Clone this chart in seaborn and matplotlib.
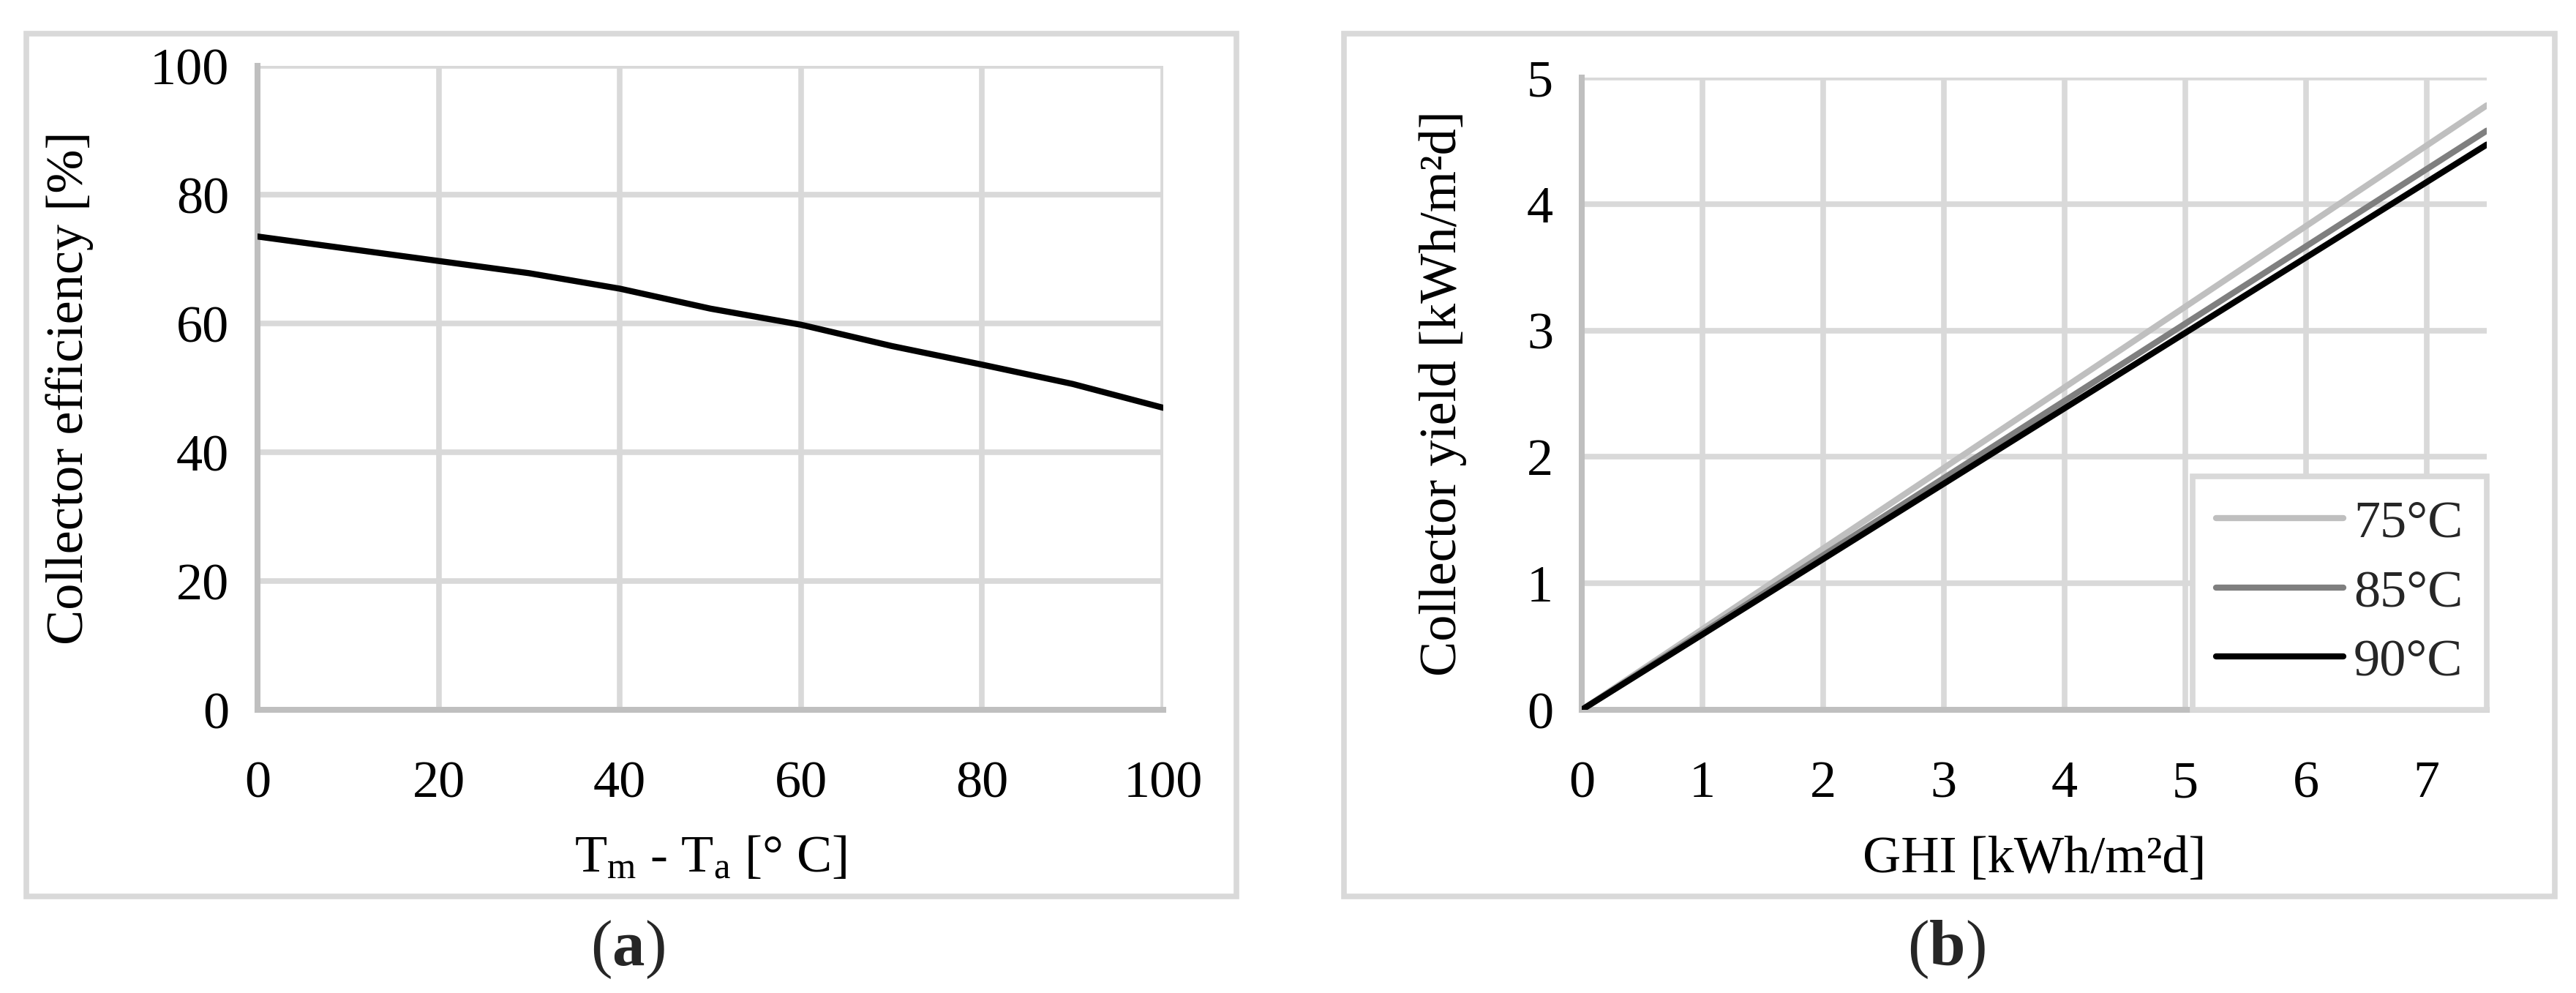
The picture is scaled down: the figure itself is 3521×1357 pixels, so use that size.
import matplotlib
matplotlib.use("Agg")
import matplotlib.pyplot as plt
import seaborn as sns
import pandas as pd
from matplotlib.patches import Rectangle

# ---- data ----
temp_diff = [0, 10, 20, 30, 40, 50, 60, 70, 80, 90, 100]
efficiency = [73.5, 71.6, 69.7, 67.8, 65.4, 62.3, 59.8, 56.5, 53.6, 50.6, 46.9]

ghi = [0, 7.5]
yield_75 = [0, 4.78]
yield_85 = [0, 4.58]
yield_90 = [0, 4.47]
series_labels = ["75°C", "85°C", "90°C"]
series_colors = ["#bfbfbf", "#7f7f7f", "#000000"]

left_xticks = [0, 20, 40, 60, 80, 100]
left_yticks = [0, 20, 40, 60, 80, 100]
right_xticks = [0, 1, 2, 3, 4, 5, 6, 7]
right_yticks = [0, 1, 2, 3, 4, 5]

# ---- style ----
sns.set_theme(style="whitegrid")
plt.rcParams["font.family"] = ["Liberation Serif", "DejaVu Serif"]
plt.rcParams["mathtext.fontset"] = "custom"
plt.rcParams["mathtext.rm"] = "Liberation Serif"
plt.rcParams["mathtext.it"] = "Liberation Serif:italic"
plt.rcParams["mathtext.bf"] = "Liberation Serif:bold"

W, H = 3521, 1357
DPI = 100
fig = plt.figure(figsize=(W / DPI, H / DPI), dpi=DPI)
fig.patch.set_facecolor("white")

FS = 52
GRID = "#d9d9d9"
SPINE = "#bfbfbf"


def px_rect(x0, y0, x1, y1):
    return [x0 / W, (H - y1) / H, (x1 - x0) / W, (y1 - y0) / H]


# frames around panels
for (x0, y0, x1, y1) in [(36, 46, 1690, 1225), (1837, 46, 3492, 1225)]:
    r = px_rect(x0, y0, x1, y1)
    fig.patches.append(Rectangle((r[0], r[1]), r[2], r[3], transform=fig.transFigure,
                                 fill=False, edgecolor=GRID, linewidth=5.5, zorder=0))

axL = fig.add_axes(px_rect(352, 90, 1590, 970))
axR = fig.add_axes(px_rect(2162, 106, 3399, 970))


def style_axes(ax):
    ax.set_facecolor("white")
    ax.grid(True, color=GRID, linewidth=5.5)
    for s in ["top", "right"]:
        ax.spines[s].set_visible(False)
    for s in ["left", "bottom"]:
        ax.spines[s].set_color(SPINE)
        ax.spines[s].set_linewidth(5.8)
    ax.tick_params(axis="both", which="both", length=0, labelsize=FS, colors="black")
    ax.tick_params(axis="x", pad=50)
    ax.tick_params(axis="y", pad=28)


# ---- left panel ----
dfL = pd.DataFrame({"x": temp_diff, "y": efficiency})
sns.lineplot(data=dfL, x="x", y="y", ax=axL, color="black", linewidth=6,
             solid_capstyle="round", zorder=3)
axL.set_xlim(0, 100)
axL.set_ylim(0, 100)
axL.set_xticks(left_xticks)
axL.set_yticks(left_yticks)
style_axes(axL)
axL.set_xlabel(r"T$_\mathregular{m}$ - T$_\mathregular{a}$ [° C]", fontsize=FS, color="black")
axL.set_ylabel("Collector efficiency [%]", fontsize=FS, color="black")
axL.xaxis.set_label_coords(0.5, -0.195)
axL.yaxis.set_label_coords((128 - 352) / 1238, 0.5)

# ---- right panel ----
dfR = pd.DataFrame({
    "x": ghi * 3,
    "y": yield_75 + yield_85 + yield_90,
    "series": [series_labels[0]] * len(ghi) + [series_labels[1]] * len(ghi) + [series_labels[2]] * len(ghi),
})
sns.lineplot(data=dfR, x="x", y="y", hue="series", hue_order=series_labels,
             palette=dict(zip(series_labels, series_colors)), ax=axR, linewidth=6,
             solid_capstyle="round", zorder=3)
axR.set_xlim(0, 7.5)
axR.set_ylim(0, 5)
axR.set_xticks(right_xticks)
axR.set_yticks(right_yticks)
style_axes(axR)
axR.set_xlabel("GHI [kWh/m²d]", fontsize=FS, color="black")
axR.set_ylabel("Collector yield [kWh/m²d]", fontsize=FS, color="black")
axR.xaxis.set_label_coords(0.5, -0.195 * 880 / 864)
axR.yaxis.set_label_coords((2005 - 2162) / 1237, 0.5)

leg = axR.legend(loc="lower right", bbox_to_anchor=(1.0, 0.0), borderaxespad=0,
                 fontsize=FS, frameon=True, fancybox=False, handlelength=2.4,
                 handletextpad=0.2, labelspacing=0.4, borderpad=0.45)
leg.get_frame().set_edgecolor(GRID)
leg.get_frame().set_linewidth(5.5)
leg.get_frame().set_facecolor("white")
leg.get_frame().set_alpha(1)
for line in leg.get_lines():
    line.set_linewidth(6)
    line.set_solid_capstyle("round")

# captions
fig.text(858 / W, 1 - 1298 / H, r"($\mathbf{a}$)", fontsize=64, ha="center", va="center")
fig.text(2660 / W, 1 - 1298 / H, r"($\mathbf{b}$)", fontsize=64, ha="center", va="center")

fig.savefig("out.png", dpi=DPI, facecolor="white")
